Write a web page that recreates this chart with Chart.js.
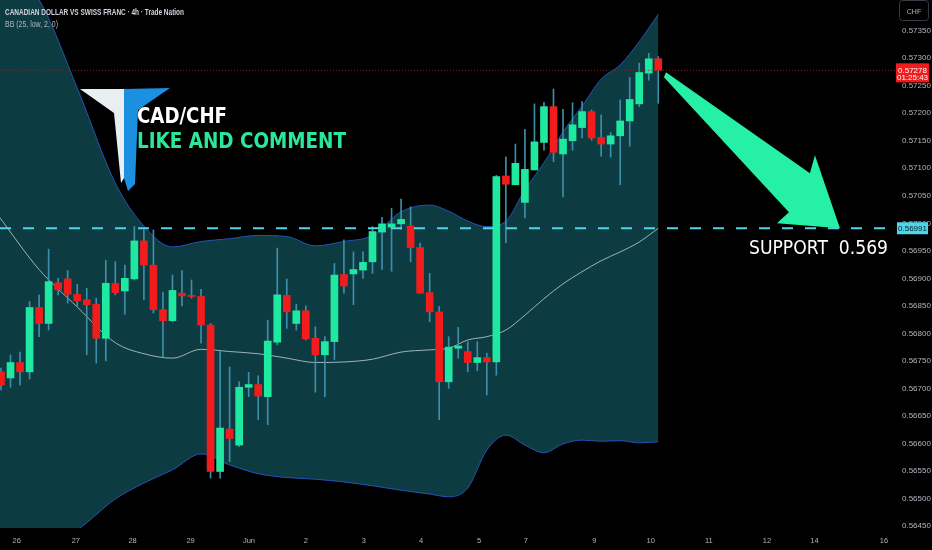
<!DOCTYPE html>
<html>
<head>
<meta charset="utf-8">
<script src="https://cdn.jsdelivr.net/npm/chart.js@4.4.1/dist/chart.umd.min.js"></script>
<style>
  html, body { margin: 0; padding: 0; background: #000; }
  canvas { display: block; }
</style>
</head>
<body>
<canvas id="c" width="932" height="550"></canvas>
<script>
// CAD/CHF 4h candles, oldest first (x = candle index)
const open = [
  0.56730, 0.56719, 0.56747, 0.56730, 0.56847, 0.56818, 0.56892, 0.56899, 0.56871, 0.56861,
  0.56853, 0.56791, 0.56891, 0.56877, 0.56899, 0.56968, 0.56924, 0.56843, 0.56823, 0.56873,
  0.56869, 0.56867, 0.56815, 0.56549, 0.56626, 0.56597, 0.56702, 0.56707, 0.56685, 0.56784,
  0.56869, 0.56818, 0.56841, 0.56791, 0.56761, 0.56785, 0.56907, 0.56908, 0.56915, 0.56930,
  0.56984, 0.56993, 0.56999, 0.56995, 0.56956, 0.56874, 0.56839, 0.56712, 0.56773, 0.56767,
  0.56747, 0.56756, 0.56748, 0.57086, 0.57070, 0.57038, 0.57097, 0.57147, 0.57212, 0.57126,
  0.57150, 0.57174, 0.57203, 0.57156, 0.57144, 0.57159, 0.57186, 0.57217, 0.57273, 0.57299];
const high = [
  0.56737, 0.56761, 0.56766, 0.56858, 0.56870, 0.56953, 0.56900, 0.56914, 0.56889, 0.56882,
  0.56864, 0.56933, 0.56930, 0.56924, 0.56994, 0.56988, 0.56988, 0.56875, 0.56906, 0.56914,
  0.56897, 0.56880, 0.56818, 0.56767, 0.56739, 0.56712, 0.56729, 0.56723, 0.56824, 0.56955,
  0.56899, 0.56853, 0.56850, 0.56812, 0.56794, 0.56927, 0.56970, 0.56948, 0.56948, 0.56994,
  0.57011, 0.57027, 0.57044, 0.57030, 0.56964, 0.56909, 0.56849, 0.56794, 0.56811, 0.56785,
  0.56785, 0.56764, 0.57087, 0.57121, 0.57144, 0.57171, 0.57217, 0.57220, 0.57244, 0.57207,
  0.57219, 0.57221, 0.57206, 0.57197, 0.57165, 0.57224, 0.57265, 0.57291, 0.57309, 0.57303];
const low = [
  0.56697, 0.56702, 0.56706, 0.56717, 0.56794, 0.56806, 0.56870, 0.56855, 0.56849, 0.56761,
  0.56746, 0.56750, 0.56870, 0.56835, 0.56897, 0.56861, 0.56837, 0.56758, 0.56821, 0.56850,
  0.56864, 0.56782, 0.56537, 0.56537, 0.56567, 0.56594, 0.56685, 0.56643, 0.56634, 0.56779,
  0.56809, 0.56806, 0.56788, 0.56693, 0.56685, 0.56752, 0.56873, 0.56852, 0.56900, 0.56909,
  0.56916, 0.56913, 0.56989, 0.56930, 0.56873, 0.56821, 0.56643, 0.56700, 0.56755, 0.56730,
  0.56732, 0.56688, 0.56724, 0.56965, 0.57070, 0.57010, 0.57097, 0.57133, 0.57112, 0.57048,
  0.57133, 0.57155, 0.57151, 0.57122, 0.57120, 0.57070, 0.57140, 0.57212, 0.57260, 0.57218];
const close = [
  0.56706, 0.56747, 0.56730, 0.56847, 0.56818, 0.56894, 0.56879, 0.56871, 0.56859, 0.56852,
  0.56791, 0.56891, 0.56874, 0.56900, 0.56968, 0.56924, 0.56843, 0.56823, 0.56878, 0.56868,
  0.56867, 0.56815, 0.56549, 0.56628, 0.56609, 0.56702, 0.56707, 0.56686, 0.56786, 0.56870,
  0.56839, 0.56841, 0.56790, 0.56761, 0.56785, 0.56906, 0.56886, 0.56916, 0.56929, 0.56985,
  0.56999, 0.56999, 0.57007, 0.56956, 0.56873, 0.56839, 0.56712, 0.56775, 0.56777, 0.56747,
  0.56756, 0.56748, 0.57085, 0.57071, 0.57109, 0.57098, 0.57148, 0.57212, 0.57129, 0.57153,
  0.57179, 0.57203, 0.57155, 0.57144, 0.57159, 0.57186, 0.57225, 0.57274, 0.57299, 0.57278];

// BB (25, low, 2, 0) at these candle positions
const bandX = [-0.2, 4, 8, 12, 15, 18, 21, 24, 27, 30, 33, 36, 39, 42, 45, 47, 49, 51, 53, 55, 57, 59, 61, 63, 65, 67, 69];
const bbUpper = [
  0.57479, 0.57406, 0.57246, 0.57073, 0.56995, 0.56957, 0.56967, 0.56972, 0.56978, 0.56976,
  0.56959, 0.56967, 0.56978, 0.57021, 0.57033, 0.57022, 0.57004, 0.56994, 0.57004, 0.57061,
  0.57110, 0.57166, 0.57213, 0.57262, 0.57288, 0.57330, 0.57380];
const bbMiddle = [
  0.57012, 0.56916, 0.56848, 0.56783, 0.56763, 0.56755, 0.56771, 0.56767, 0.56763, 0.56755,
  0.56747, 0.56748, 0.56753, 0.56766, 0.56770, 0.56773, 0.56788, 0.56794, 0.56806, 0.56833,
  0.56863, 0.56890, 0.56912, 0.56932, 0.56948, 0.56966, 0.56991];
const bbLower = [
  0.56379, 0.56410, 0.56443, 0.56499, 0.56528, 0.56552, 0.56581, 0.56561, 0.56545, 0.56538,
  0.56535, 0.56530, 0.56523, 0.56515, 0.56508, 0.56503, 0.56519, 0.56588, 0.56615, 0.56597,
  0.56583, 0.56599, 0.56606, 0.56604, 0.56605, 0.56601, 0.56603];

// time axis: day labels at candle positions
const dayTicks = [1.65, 7.86, 13.81, 19.9, 26.03, 32.0, 38.09, 44.09, 50.2, 55.1, 62.3, 68.2, 74.3, 80.4, 85.4, 92.7];
const dayLabels = ["26", "27", "28", "29", "Jun", "2", "3", "4", "5", "7", "9", "10", "11", "12", "14", "16"];

const supportLevel = 0.56991;
const lastPrice = 0.57278;
const countdown = "01:25:43";
const arrowTip = { x: 88.07, y: 0.56991 };

const UP = "#1fe9a0", DOWN = "#f21c1c", WICK = "#3c8fa8";
const BAND = "#2653b5", FILL = "#0c3b42";
const AXIS_TXT = "#b2b5be";
const NARROW = '"Liberation Sans Narrow", "Liberation Sans", sans-serif';

const idx = open.map((_, i) => i);
const candleColors = idx.map((i) => (close[i] >= open[i] ? UP : DOWN));
const bandLine = (vals) => bandX.map((x, i) => ({ x, y: vals[i] }));

function txt(ctx, s, x, y, font, color, maxW, align = "left") {
  ctx.font = font;
  ctx.fillStyle = color;
  ctx.textAlign = align;
  ctx.textBaseline = "alphabetic";
  if (maxW) ctx.fillText(s, x, y, maxW); else ctx.fillText(s, x, y);
}

function poly(ctx, pts, color) {
  ctx.fillStyle = color;
  ctx.beginPath();
  pts.forEach(([px, py], i) => (i ? ctx.lineTo(px, py) : ctx.moveTo(px, py)));
  ctx.closePath();
  ctx.fill();
}

// keep the plot area flush with the canvas edges
const noPad = (s) => { s.paddingTop = 0; s.paddingBottom = 0; s.paddingLeft = 0; s.paddingRight = 0; };

const overlay = {
  id: "overlay",
  afterDatasetsDraw(chart) {
    const { ctx, chartArea: a, scales: { x, y } } = chart;
    ctx.save();
    // last price line
    const yl = y.getPixelForValue(lastPrice);
    ctx.strokeStyle = "rgba(160,30,30,0.85)";
    ctx.lineWidth = 1;
    ctx.setLineDash([1, 2]);
    ctx.beginPath(); ctx.moveTo(a.left, yl); ctx.lineTo(a.right, yl); ctx.stroke();
    // support line
    const ys = y.getPixelForValue(supportLevel);
    ctx.strokeStyle = "#4fd4e8";
    ctx.lineWidth = 2.2;
    ctx.setLineDash([11, 12]);
    ctx.beginPath(); ctx.moveTo(a.left, ys); ctx.lineTo(a.right + 2, ys); ctx.stroke();
    ctx.setLineDash([]);

    // big arrow pointing at the support
    const tx = x.getPixelForValue(arrowTip.x), ty = y.getPixelForValue(arrowTip.y);
    poly(ctx, [[-174, -156], [-30, -55], [-25, -73], [0, 0], [-63, -5], [-51, -16], [-176, -151]]
      .map(([dx, dy]) => [tx + dx, ty + dy]), "#25f0a6");

    txt(ctx, "SUPPORT  0.569", 749, ys + 26, "20px 'DejaVu Sans'", "#ffffff", 139);

    // logo + caption
    poly(ctx, [[80, 89], [124, 89], [124, 178], [121, 183], [114, 113]], "#e9eef0");
    poly(ctx, [[124, 89], [170, 88], [138, 110], [135, 184], [128, 191], [124, 178]], "#1b8fe0");
    txt(ctx, "CAD/CHF", 137, 123, "bold 22px 'DejaVu Sans'", "#ffffff", 90);
    txt(ctx, "LIKE AND COMMENT", 137, 148, "bold 22px 'DejaVu Sans'", "#29e89b", 209);

    // header
    txt(ctx, "CANADIAN DOLLAR VS SWISS FRANC · 4h · Trade Nation", 5, 15, "600 8.5px " + NARROW, "#d1d4dc", 179);
    txt(ctx, "BB (25, low, 2, 0)", 5, 27, "8.5px " + NARROW, AXIS_TXT, 53);
    ctx.restore();
  },
  afterDraw(chart) {
    const { ctx, scales: { y } } = chart;
    ctx.save();
    // currency box
    ctx.strokeStyle = "#363a45";
    ctx.lineWidth = 1;
    ctx.beginPath(); ctx.roundRect(899.5, 0.5, 29, 20, 3); ctx.stroke();
    txt(ctx, "CHF", 914, 14, "7px " + NARROW, AXIS_TXT, 0, "center");
    // last price label
    const yl = y.getPixelForValue(lastPrice);
    ctx.fillStyle = "#f21c1c";
    ctx.fillRect(896, yl - 7, 33, 19);
    txt(ctx, lastPrice.toFixed(5), 912.5, yl + 2.5, "8px " + NARROW, "#ffffff", 0, "center");
    txt(ctx, countdown, 912.5, yl + 10, "8px " + NARROW, "#ffffff", 0, "center");
    // support label
    const ys = y.getPixelForValue(supportLevel);
    ctx.fillStyle = "#4fd4e8";
    ctx.fillRect(897, ys - 6, 31, 12);
    txt(ctx, supportLevel.toFixed(5), 912.5, ys + 3, "8px " + NARROW, "#0b1a1e", 0, "center");
    ctx.restore();
  },
};

new Chart(document.getElementById("c"), {
  type: "bar",
  data: {
    datasets: [
      {
        label: "body",
        data: idx.map((i) => ({ x: i, y: [open[i], close[i]] })),
        backgroundColor: candleColors,
        barThickness: 7,
        minBarLength: 1,
        grouped: false,
      },
      {
        label: "wick",
        data: idx.map((i) => ({ x: i, y: [low[i], high[i]] })),
        backgroundColor: WICK,
        barThickness: 1,
        grouped: false,
      },
      {
        type: "line", label: "basis", data: bandLine(bbMiddle),
        borderColor: "rgba(205,218,220,0.75)", borderWidth: 1, pointRadius: 0,
        cubicInterpolationMode: "monotone", fill: false,
      },
      {
        type: "line", label: "upper", data: bandLine(bbUpper),
        borderColor: BAND, borderWidth: 1, pointRadius: 0,
        cubicInterpolationMode: "monotone", fill: "+1", backgroundColor: FILL,
      },
      {
        type: "line", label: "lower", data: bandLine(bbLower),
        borderColor: BAND, borderWidth: 1, pointRadius: 0,
        cubicInterpolationMode: "monotone", fill: false,
      },
    ],
  },
  options: {
    responsive: false,
    animation: false,
    events: [],
    devicePixelRatio: 1,
    layout: { padding: 0 },
    plugins: {
      legend: { display: false },
      tooltip: { enabled: false },
      filler: { drawTime: "beforeDatasetsDraw" },
    },
    scales: {
      x: {
        type: "linear",
        min: -0.105,
        max: 93.85,
        offset: false,
        grid: { display: false, drawTicks: false },
        border: { display: false },
        afterFit: (s) => { s.height = 22; noPad(s); },
        afterBuildTicks: (s) => { s.ticks = dayTicks.map((v) => ({ value: v })); },
        ticks: {
          autoSkip: false, maxRotation: 0, padding: 8, color: AXIS_TXT,
          font: { size: 7.5, family: NARROW },
          callback: (v, i) => dayLabels[i],
        },
      },
      y: {
        position: "right",
        min: 0.564463,
        max: 0.574058,
        grid: { display: false, drawTicks: false },
        border: { display: false },
        afterFit: (s) => { s.width = 37; noPad(s); },
        ticks: {
          stepSize: 0.0005, includeBounds: false, padding: 7, color: AXIS_TXT,
          font: { size: 8, family: NARROW },
          callback: (v) => (v > 0.5737 ? "" : v.toFixed(5)),
        },
      },
    },
  },
  plugins: [overlay],
});
</script>
</body>
</html>
